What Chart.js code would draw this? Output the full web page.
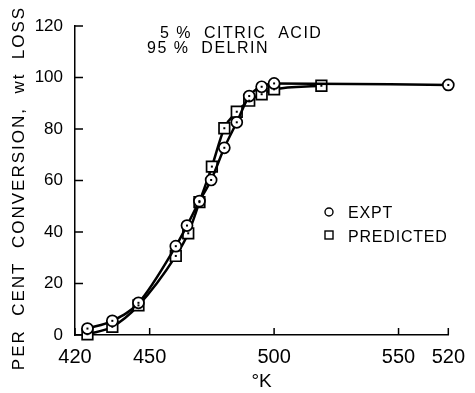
<!DOCTYPE html>
<html>
<head>
<meta charset="utf-8">
<script src="https://cdn.jsdelivr.net/npm/chart.js@4.4.0/dist/chart.umd.min.js"></script>
<style>
  body { margin: 0; background: #fff; }
  canvas { display: block; }
</style>
</head>
<body>
<canvas id="chart" width="475" height="393"></canvas>
<script>
// values (temperature in K, per cent weight loss)
const exptTemp = [425, 435, 445.5, 460.5, 465, 470, 474.7, 480, 485, 490, 495, 500, 570];
const exptLoss = [2.5, 5.5, 12.5, 34.5, 42.5, 52, 60.2, 72.7, 82.6, 92.8, 96.4, 97.7, 97.1];
const predTemp = [425, 435, 445.5, 460.5, 465.5, 470, 475, 480, 485, 490, 495, 500, 519];
const predLoss = [0.3, 3.2, 11.5, 30.7, 39.5, 51.6, 65.4, 80.3, 86.7, 91, 93.5, 95.4, 96.8];

const xTicks = [420, 450, 500, 550, 570];
const xTickLabels = ["420", "450", "500", "550", "520"]; // last label is printed like this on the original
const yTicks = [0, 20, 40, 60, 80, 100, 120];

const xTitle = "°K";
const yTitle = "PER  CENT  CONVERSION,  wt  LOSS";
const noteLines = ["5 %  CITRIC  ACID", "95 %  DELRIN"];
const legendLabels = ["EXPT", "PREDICTED"];

const FONT = "'Liberation Sans', Arial, sans-serif";

function toPoints(xs, ys) {
    return xs.map((x, i) => ({ x: x, y: ys[i] }));
}

const extras = {
    id: "extras",
    afterDatasetsDraw(chart) {
        // small dot in the middle of every marker
        const ctx = chart.ctx;
        ctx.save();
        ctx.fillStyle = "#000";
        chart.data.datasets.forEach((ds, i) => {
            chart.getDatasetMeta(i).data.forEach(pt => ctx.fillRect(pt.x - 1, pt.y - 1, 2, 2));
        });
        ctx.restore();
    },
    afterDraw(chart) {
        const ctx = chart.ctx;
        const xs = chart.scales.x;
        const ys = chart.scales.y;
        ctx.save();

        // tick marks pointing into the plot
        ctx.strokeStyle = "#000";
        ctx.lineWidth = 1.5;
        ctx.beginPath();
        xTicks.forEach(v => {
            const p = xs.getPixelForValue(v);
            ctx.moveTo(p, xs.top);
            ctx.lineTo(p, xs.top - 7);
        });
        yTicks.forEach(v => {
            const p = ys.getPixelForValue(v);
            ctx.moveTo(ys.right, p);
            ctx.lineTo(ys.right + 8, p);
        });
        ctx.stroke();

        ctx.fillStyle = "#000";
        ctx.textBaseline = "alphabetic";
        ctx.letterSpacing = "1.5px";

        // composition note
        ctx.font = "16px " + FONT;
        ctx.fillText(noteLines[0], 160, 38);
        ctx.fillText(noteLines[1], 147, 53);

        // legend
        ctx.letterSpacing = "0.8px";
        ctx.fillText(legendLabels[0], 348, 218);
        ctx.fillText(legendLabels[1], 348, 242);
        ctx.lineWidth = 1.4;
        ctx.beginPath();
        ctx.arc(329, 212, 4, 0, Math.PI * 2);
        ctx.stroke();
        ctx.strokeRect(325, 231, 8, 8);

        // y axis title
        ctx.letterSpacing = "2px";
        ctx.font = "17px " + FONT;
        ctx.translate(19, 188);
        ctx.rotate(-Math.PI / 2);
        ctx.textAlign = "center";
        ctx.textBaseline = "middle";
        ctx.fillText(yTitle, 0, 0);

        ctx.restore();
    }
};

new Chart(document.getElementById("chart"), {
    type: "line",
    data: {
        datasets: [
            {
                label: legendLabels[0],
                data: toPoints(exptTemp, exptLoss),
                borderColor: "#000",
                borderWidth: 2.5,
                pointStyle: "circle",
                pointRadius: 5.5,
                pointBackgroundColor: "#fff",
                pointBorderColor: "#000",
                pointBorderWidth: 1.7,
                cubicInterpolationMode: "monotone",
                clip: false
            },
            {
                label: legendLabels[1],
                data: toPoints(predTemp, predLoss),
                borderColor: "#000",
                borderWidth: 2.5,
                pointStyle: "rect",
                pointRadius: 7.5,
                pointBackgroundColor: "#fff",
                pointBorderColor: "#000",
                pointBorderWidth: 1.7,
                cubicInterpolationMode: "monotone",
                clip: false
            }
        ]
    },
    options: {
        animation: false,
        responsive: false,
        layout: { padding: { top: 26, right: 21, left: 0, bottom: 0 } },
        plugins: {
            legend: { display: false },
            tooltip: { enabled: false }
        },
        scales: {
            x: {
                type: "linear",
                min: 420,
                max: 570,
                afterBuildTicks: s => { s.ticks = xTicks.map(v => ({ value: v })); },
                afterFit: s => { s.height = 58; },
                ticks: {
                    callback: v => xTickLabels[xTicks.indexOf(v)],
                    font: { family: FONT, size: 20 },
                    color: "#000",
                    padding: 10,
                    maxRotation: 0,
                    autoSkip: false
                },
                grid: { display: false, drawTicks: false },
                border: { display: true, color: "#000", width: 1.5 },
                title: {
                    display: true,
                    text: xTitle,
                    font: { family: FONT, size: 19 },
                    color: "#000",
                    padding: { top: 0, bottom: 0 }
                }
            },
            y: {
                min: 0,
                max: 120,
                afterFit: s => { s.width = 75; },
                ticks: {
                    stepSize: 20,
                    font: { family: FONT, size: 17 },
                    color: "#000",
                    padding: 12
                },
                grid: { display: false, drawTicks: false },
                border: { display: true, color: "#000", width: 1.5 }
            }
        }
    },
    plugins: [extras]
});
</script>
</body>
</html>
